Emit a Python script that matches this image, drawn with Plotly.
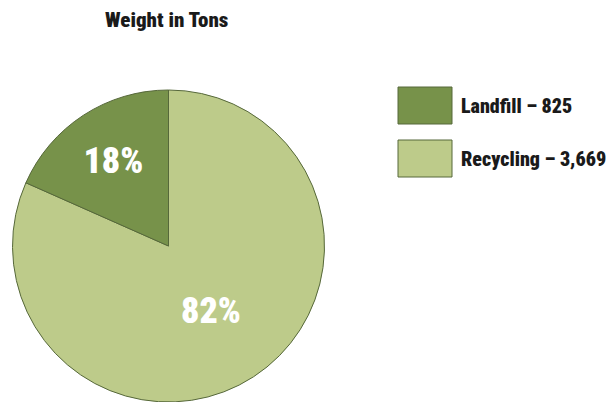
import plotly.graph_objects as go

categories = ["Landfill", "Recycling"]
tons = [825, 3669]
legend_labels = ["Landfill – 825", "Recycling – 3,669"]
colors = ["#77924A", "#BDCB8A"]

# the page body adds an 8px offset; size the figure to fit the window
OFF = 8
W, H = 615 - OFF, 402 - OFF
FONT = "Roboto Condensed, DejaVu Sans Condensed, Roboto, sans-serif"

def px(x):
    return (x - OFF) / W

def py(y):
    return 1 - (y - OFF) / H

# draw Recycling first clockwise from 12 o'clock so Landfill ends at 12 on the left
fig = go.Figure()
fig.add_trace(go.Pie(
    labels=categories[::-1],
    values=tons[::-1],
    sort=False,
    direction="clockwise",
    rotation=0,
    marker=dict(colors=colors[::-1], line=dict(color="#56683A", width=1)),
    texttemplate="%{percent:.0%}",
    textposition="inside",
    insidetextorientation="horizontal",
    textfont=dict(family=FONT, size=36, color="white", weight=900),
    domain=dict(x=[px(12), px(325)], y=[0, py(90)]),
    showlegend=False,
    hoverinfo="label+value+percent",
))

shapes = []
annotations = []
box_tops = [87, 140]
for i, (lab, col) in enumerate(zip(legend_labels, colors)):
    top = box_tops[i]
    shapes.append(dict(
        type="rect", xref="paper", yref="paper",
        x0=px(398), x1=px(452), y0=py(top + 37), y1=py(top),
        fillcolor=col, line=dict(color="#56683A", width=1),
    ))
    annotations.append(dict(
        text=lab, xref="paper", yref="paper",
        x=px(459), y=py(top + 19), xanchor="left", yanchor="middle",
        showarrow=False,
        font=dict(family=FONT, size=20, color="#1a1a1a", weight=900),
    ))

annotations.append(dict(
    text="Weight in Tons", xref="paper", yref="paper",
    x=px(166), y=py(20), xanchor="center", yanchor="middle",
    showarrow=False,
    font=dict(family=FONT, size=21, color="#1a1a1a", weight=900),
))

fig.update_layout(
    width=W, height=H,
    margin=dict(l=0, r=0, t=0, b=0),
    paper_bgcolor="white",
    plot_bgcolor="white",
    shapes=shapes,
    annotations=annotations,
)

fig.write_html("out.html")
